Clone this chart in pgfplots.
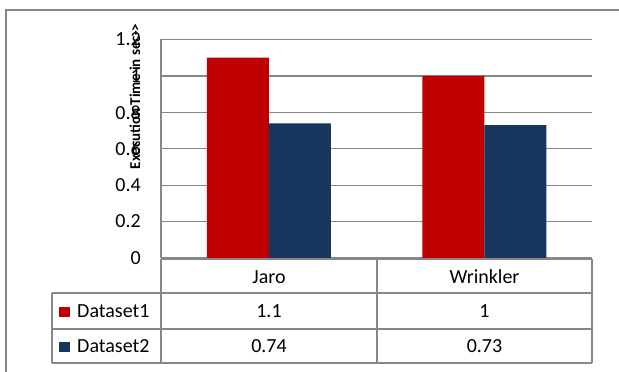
\documentclass[border=0pt]{standalone}
\usepackage{pgfplots}
\pgfplotsset{compat=1.18}
\usepackage{fontspec}
\setmainfont{Carlito}
\definecolor{dred}{HTML}{C00000}
\definecolor{dblue}{HTML}{17375E}
\definecolor{lgray}{HTML}{878787}
\begin{document}
\begin{tikzpicture}[x=1pt,y=1pt]
\useasboundingbox (0,0) rectangle (619,372);
\clip (0,0) rectangle (619,372);
\fill[white] (0,0) rectangle (619,372);
\draw[lgray, line width=1.5pt] (6,-20) -- (6,362) -- (640,362);
\begin{axis}[
  at={(161pt,114pt)}, anchor=south west,
  scale only axis, width=431pt, height=218.5pt,
  xmin=-0.5, xmax=1.5, ymin=0, ymax=1.2,
  ybar=0pt, bar width=62pt,
  axis x line=none, axis y line*=left,
  axis line style={lgray, line width=1.2pt, -},
  xtick=\empty,
  ytick={0,0.2,0.4,0.6,0.8,1,1.2},
  ymajorgrids, grid style={lgray, line width=1.2pt},
  major tick length=0pt,
  /pgf/number format/assume math mode=true,
  yticklabel style={font=\fontsize{20}{24}\selectfont, inner sep=0pt, anchor=east, xshift=-20pt},
  clip=false,
]
\addplot[fill=dred, draw=none] coordinates {(0,1.1) (1,1)};
\addplot[fill=dblue, draw=none] coordinates {(0,0.74) (1,0.73)};
\end{axis}
\node[rotate=90, font=\fontsize{15}{18}\selectfont\bfseries, inner sep=0pt] at (135,275.5) {Execution Time in sec->};
% data table
\begin{scope}[lgray, line width=1.5pt]
\draw (161,113) -- (592,113);
\draw (52,79) -- (592,79);
\draw (52,43) -- (592,43);
\draw (52,9) -- (592,9);
\draw (52,79) -- (52,9);
\draw (161,113) -- (161,9);
\draw (377,113) -- (377,9);
\draw (592,113) -- (592,9);
\end{scope}
\begin{scope}[every node/.style={font=\fontsize{20}{24}\selectfont, inner sep=0pt}]
\node at (269,95) {Jaro};
\node at (484.5,95) {Wrinkler};
\node at (269,61) {1.1};
\node at (484.5,61) {1};
\node at (269,26) {0.74};
\node at (484.5,26) {0.73};
\node[anchor=west] at (77,61) {Dataset1};
\node[anchor=west] at (77,26) {Dataset2};
\end{scope}
\fill[dred] (59,55) rectangle (70,65);
\fill[dblue] (59,20) rectangle (70,30);
\end{tikzpicture}
\end{document}
